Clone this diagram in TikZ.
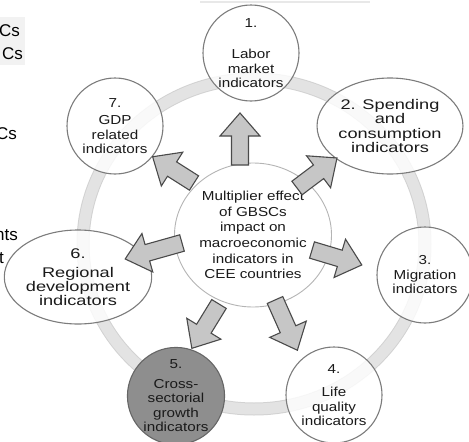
\documentclass[tikz,border=0pt]{standalone}
\usepackage{fontspec}
\setmainfont{Liberation Sans}
\newfontfamily\circfont[FakeStretch=1.17]{Liberation Sans}
\newfontfamily\ovalfont[FakeStretch=1.3]{Liberation Sans}
\usetikzlibrary{shapes.geometric}

\definecolor{ringgray}{HTML}{E3E3E3}
\definecolor{ringedge}{HTML}{D2D2D2}
\definecolor{nodeedge}{HTML}{7C7C7C}
\definecolor{hubedge}{HTML}{B4B4B4}
\definecolor{arrowfill}{HTML}{C6C6C6}
\definecolor{arrowedge}{HTML}{4A4A4A}
\definecolor{darkfill}{HTML}{8E8E8E}
\definecolor{ink}{HTML}{1A1A1A}

\tikzset{
  bubble/.style={circle, draw=nodeedge, line width=1.1pt, fill=white,
    fill opacity=0.8, text opacity=1, inner sep=0pt, minimum size=96pt,
    align=center, text=ink, font=\circfont\fontsize{13}{14.5}\selectfont},
  darkbubble/.style={bubble, fill=darkfill, fill opacity=1, draw=black!60},
  oval/.style={ellipse, draw=nodeedge, line width=1.1pt, fill=white,
    fill opacity=0.8, text opacity=1, inner sep=0pt, align=center,
    text=ink, font=\ovalfont\fontsize{14}{14.2}\selectfont},
  hub/.style={ellipse, draw=hubedge, line width=0.9pt, fill=white,
    inner sep=0pt, minimum width=157pt, minimum height=144pt, align=center,
    text=ink, font=\circfont\fontsize{13}{15.6}\selectfont},
  arrowbody/.style={draw=arrowedge, fill=arrowfill, line width=1.1pt,
    line join=miter},
  frag/.style={text=black, font=\fontsize{17}{17}\selectfont, inner sep=0pt},
  pics/blockarrow/.style={code={
    \draw[arrowbody] (0,-8.5) -- ({#1-23},-8.5) -- ({#1-23},-20) -- (#1,0)
      -- ({#1-23},20) -- ({#1-23},8.5) -- (0,8.5) -- cycle;}}
}

\begin{document}
\begin{tikzpicture}[x=1pt,y=-1pt]
\useasboundingbox (0,0) rectangle (469,442);

% cut-off labels of the neighbouring legend
\fill[black!5] (0,17) rectangle (25,65);
\node[frag, anchor=base east] (l1) at (20,36) {Cs};
\node[frag, anchor=base east] (l2) at (23,59) {Cs};
\node[frag, anchor=base east] (l3) at (17,139) {Cs};
\node[frag, anchor=base east] (l4) at (18,240) {nts};
\node[frag, anchor=base east] (l5) at (4,263) {t};
\draw[black!9, line width=1.4pt] (200,2) -- (370,2);

% the ring linking the indicator groups
\draw[ringedge, line width=13pt] (254,244) ellipse [x radius=171, y radius=165];
\draw[ringgray, line width=11pt] (254,244) ellipse [x radius=171, y radius=165];

% central node
\node[hub] (hub) at (253,235)
  {Multiplier effect\\of GBSCs\\impact on\\macroeconomic\\indicators in\\CEE countries};

% indicator groups
\node[bubble] (n1) at (251,53) {1.\\[17pt]Labor\\market\\indicators};
\node[oval, minimum width=135pt, minimum height=96pt] (n2) at (390,126)
  {2. Spending\\and\\consumption\\indicators};
\node[bubble] (n3) at (425,275) {3.\\Migration\\indicators};
\node[bubble] (n4) at (334,395) {4.\\[9pt]Life\\quality\\indicators};
\node[darkbubble] (n5) at (176,396) {5.\\[5pt]Cross-\\sectorial\\growth\\indicators};
\node[oval, minimum width=142pt, minimum height=94pt] (n6) at (78,277)
  {6.\\[5pt]Regional\\development\\indicators};
\node[bubble] (n7) at (115,126) {7.\\[3pt]GDP\\related\\indicators};

% block arrows from the hub to each group
\pic[rotate=90]    (a1) at (240,165) {blockarrow=52};
\pic[rotate=36.9]  (a2) at (297,188) {blockarrow=50};
\pic[rotate=-16.7] (a3) at (312,250) {blockarrow=52};
\pic[rotate=-66]   (a4) at (275,300) {blockarrow=55};
\pic[rotate=-121.5](a5) at (219,304) {blockarrow=52};
\pic[rotate=195.7] (a6) at (182,243) {blockarrow=59};
\pic[rotate=147.6] (a7) at (194,183) {blockarrow=49};
\end{tikzpicture}
\end{document}
